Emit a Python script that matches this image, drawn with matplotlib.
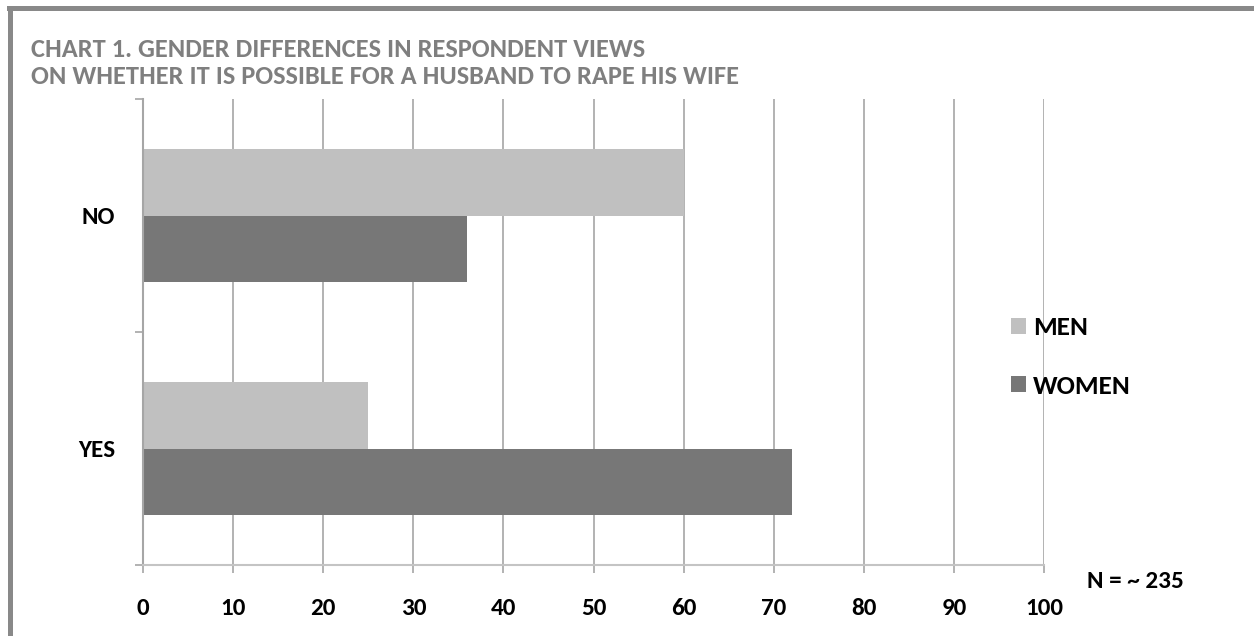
import numpy as np
import matplotlib.pyplot as plt
from matplotlib.patches import Rectangle, Patch

# data (percent of respondents)
categories = ['NO', 'YES']
men = [60, 25]
women = [36, 72]
series_names = ['MEN', 'WOMEN']
x_ticks = list(range(0, 101, 10))
title_lines = ['CHART 1. GENDER DIFFERENCES IN RESPONDENT VIEWS',
               'ON WHETHER IT IS POSSIBLE FOR A HUSBAND TO RAPE HIS WIFE']
note = 'N = ~ 235'

MEN_COLOR = '#c0c0c0'
WOMEN_COLOR = '#777777'
GRID_COLOR = '#a6a6a6'
FONT = ['Carlito', 'DejaVu Sans']
LABEL_SIZE = 18

W, H = 1254, 636
fig = plt.figure(figsize=(W / 100, H / 100), dpi=100)
fig.patch.set_facecolor('white')

# axes placed in pixel terms of the reference
left, right, top, bottom = 143, 1044, 99, 565
ax = fig.add_axes([left / W, (H - bottom) / H, (right - left) / W, (bottom - top) / H])

pos = np.arange(len(categories))
bar_h = 0.285
ax.barh(pos - bar_h / 2, men, height=bar_h, color=MEN_COLOR, label=series_names[0], zorder=2)
ax.barh(pos + bar_h / 2, women, height=bar_h, color=WOMEN_COLOR, label=series_names[1], zorder=2)

ax.set_xlim(0, 100)
ax.set_ylim(len(categories) - 0.5, -0.5)

# category labels on centres, tick marks on boundaries
ax.set_yticks(pos)
ax.set_yticklabels(categories, fontsize=LABEL_SIZE, fontweight='bold', family=FONT)
ax.tick_params(axis='y', which='major', length=0, pad=20)
ax.set_yticks(np.arange(-0.5, len(categories), 1.0), minor=True)
ax.tick_params(axis='y', which='minor', length=6, width=1.2, color=GRID_COLOR)

ax.set_xticks(x_ticks)
ax.set_xticklabels([str(v) for v in x_ticks], fontsize=LABEL_SIZE, fontweight='bold', family=FONT)
ax.tick_params(axis='x', length=6, width=1.2, color=GRID_COLOR, pad=18)

ax.grid(axis='x', color=GRID_COLOR, linewidth=1.2, zorder=0)
ax.set_axisbelow(True)
for s in ['top', 'right']:
    ax.spines[s].set_visible(False)
ax.spines['left'].set_color(GRID_COLOR)
ax.spines['left'].set_linewidth(1.5)
ax.spines['bottom'].set_color('#c4c4c4')
ax.spines['bottom'].set_linewidth(1.5)

# legend on the right
handles = [Patch(facecolor=MEN_COLOR), Patch(facecolor=WOMEN_COLOR)]
leg = fig.legend(handles, series_names, loc='center left',
                 bbox_to_anchor=(1011 / W, (H - 357) / H), frameon=False,
                 prop={'family': FONT, 'weight': 'bold', 'size': 19.5},
                 handlelength=0.55, handleheight=0.55, handletextpad=0.25,
                 labelspacing=1.3, borderpad=0, borderaxespad=0)

# title and note
for i, line in enumerate(title_lines):
    fig.text(31 / W, (H - 57 - 27 * i) / H, line, color='#7f7f7f', fontsize=19,
             fontweight='bold', family=FONT, va='baseline', ha='left')
fig.text(1087 / W, (H - 588) / H, note, fontsize=LABEL_SIZE, fontweight='bold',
         family=FONT, va='baseline', ha='left')

# frame border (top and left edges visible in the crop)
border = '#898989'
fig.add_artist(Rectangle((7 / W, (H - 11) / H), 1 - 7 / W, 5 / H,
                         transform=fig.transFigure, color=border, lw=0))
fig.add_artist(Rectangle((8 / W, 0), 5 / W, (H - 6) / H,
                         transform=fig.transFigure, color=border, lw=0))

fig.savefig('out.png', dpi=100)
